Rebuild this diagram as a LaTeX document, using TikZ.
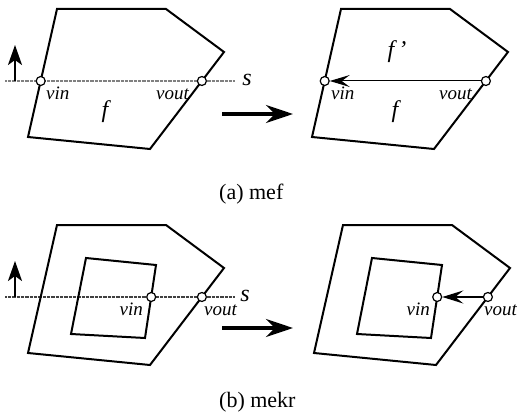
\documentclass[tikz,border=0pt]{standalone}
\usepackage{fontspec}
\setmainfont{Liberation Serif}
\newfontfamily\tmsfont{Liberation Serif}
\usetikzlibrary{arrows.meta}
\begin{document}
\begin{tikzpicture}[x=1pt,y=-1pt,
  face/.style={line width=2pt,line join=miter},
  sline/.style={line width=1.2pt,gray,dash pattern=on 0.8pt off 0.5pt},
  sline2/.style={line width=1.4pt,black!75,dash pattern=on 1pt off 0.3pt},
  vtx/.style={circle,draw,fill=white,line width=1.2pt,inner sep=0pt,minimum size=9pt},
  lbl/.style={font=\tmsfont\fontsize{19}{21}\selectfont\itshape,inner sep=0pt},
  flbl/.style={font=\tmsfont\fontsize{24}{26}\selectfont\itshape,inner sep=0pt},
  captxt/.style={font=\tmsfont\fontsize{22}{24}\selectfont,inner sep=0pt,anchor=base west},
  uparrow/.style={line width=2.2pt,-{Stealth[length=20pt,width=14pt,inset=5pt]}},
  bigarrow/.style={line width=3.4pt,-{Stealth[length=27pt,width=18pt,inset=9pt]}},
  edgearrow/.style={line width=1pt,-{Stealth[length=20pt,width=12pt,inset=8pt]}},
  edgearrowb/.style={line width=2pt,-{Stealth[length=21pt,width=13pt,inset=8pt]}}
]
\useasboundingbox (0,0) rectangle (517,420);
% ---------- (a) left ----------
\draw[sline] (5,81) -- (235,81);
\draw[face] (57,9) -- (166,9) -- (224,52) -- (150,149) -- (28,137) -- cycle;
\node[vtx] (ainL) at (40.7,81) {};
\node[vtx] (aoutL) at (201.9,81) {};
\node[lbl,anchor=mid west] (ainLt) at (46,97) {vin};
\node[lbl,anchor=mid east] (aoutLt) at (189,97) {vout};
\node[flbl] (afL) at (105,112) {f};
\node[flbl] (asL) at (247,80) {s};
\coordinate (aupS) at (15,81);
\coordinate (aupE) at (15,45);
\draw[uparrow] (aupS) -- (aupE);
% big arrow
\coordinate (abS) at (222,114);
\coordinate (abE) at (293,114);
\draw[bigarrow] (abS) -- (abE);
% ---------- (a) right ----------
\draw[face] (341,9) -- (450,9) -- (508,52) -- (434,149) -- (312,137) -- cycle;
\node[vtx] (ainR) at (324.7,81) {};
\node[vtx] (aoutR) at (485.9,81) {};
\draw[edgearrow] (aoutR) -- (ainR);
\node[lbl,anchor=mid west] (ainRt) at (331,97) {vin};
\node[lbl,anchor=mid east] (aoutRt) at (472,97) {vout};
\node[flbl] (afpR) at (397,52) {f\,\textquoteright};
\node[flbl] (afR) at (395,112) {f};
% caption
\node[captxt] (capa) at (219,199) {(a) mef};
% ---------- (b) left ----------
\draw[sline2] (5,297) -- (235,297);
\draw[face] (57,225) -- (166,225) -- (224,268) -- (150,365) -- (28,353) -- cycle;
\draw[face] (86,258) -- (156,265) -- (145,338) -- (71,334) -- cycle;
\node[vtx] (binL) at (151.2,297) {};
\node[vtx] (boutL) at (201.9,297) {};
\node[lbl,anchor=mid east] (binLt) at (143,313) {vin};
\node[lbl,anchor=mid west] (boutLt) at (204,313) {vout};
\node[flbl] (bsL) at (245,296) {s};
\coordinate (bupS) at (15,297);
\coordinate (bupE) at (15,261);
\draw[uparrow] (bupS) -- (bupE);
\coordinate (bbS) at (222,328);
\coordinate (bbE) at (293,328);
\draw[bigarrow] (bbS) -- (bbE);
% ---------- (b) right ----------
\draw[face] (343,225) -- (452,225) -- (510,268) -- (436,365) -- (314,353) -- cycle;
\draw[face] (372,258) -- (442,265) -- (431,338) -- (357,334) -- cycle;
\node[vtx] (binR) at (437.2,297) {};
\node[vtx] (boutR) at (487.9,297) {};
\draw[edgearrowb] (boutR) -- (binR);
\node[lbl,anchor=mid east] (binRt) at (430,313) {vin};
\node[lbl,anchor=mid west] (boutRt) at (484,313) {vout};
% caption
\node[captxt] (capb) at (219,407) {(b) mekr};
\end{tikzpicture}
\end{document}
